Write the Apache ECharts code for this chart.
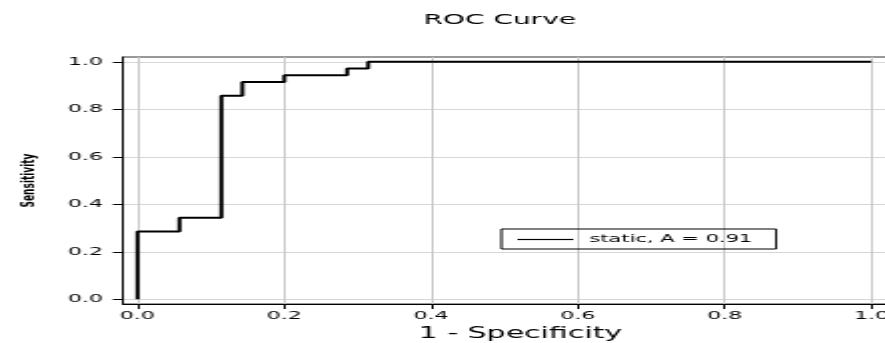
<!DOCTYPE html>
<html>
<head>
<meta charset="utf-8">
<title>ROC Curve</title>
<script src="https://cdn.jsdelivr.net/npm/echarts@6/dist/echarts.min.js"></script>
<style>
  html, body { margin: 0; padding: 0; background: #fff; overflow: hidden; }
  /* drawn at half width and stretched, like the original picture */
  #chart { width: 443px; height: 343px; transform: scaleX(1.9977); transform-origin: 0 0; }
</style>
</head>
<body>
<div id="chart"></div>
<script>
// ROC points (1 - specificity, sensitivity)
const fpr = [0, 0, 0.0571, 0.1143, 0.1429, 0.2, 0.2857, 0.3143, 1]
const tpr = [0, 0.2857, 0.3429, 0.8571, 0.9143, 0.9429, 0.9714, 1, 1]
const seriesName = 'static, A = 0.91'
const xTicks = [0, 0.2, 0.4, 0.6, 0.8, 1.0]
const yTicks = [0, 0.2, 0.4, 0.6, 0.8, 1.0]

const points = fpr.map((x, i) => [x, tpr[i]])
const font = 'DejaVu Sans'

const chart = echarts.init(document.getElementById('chart'))
chart.setOption({
  animation: false,
  title: {
    text: 'ROC Curve',
    left: 207,
    top: 8,
    textStyle: { fontFamily: font, fontSize: 14, fontWeight: 'normal', color: '#000' }
  },
  grid: {
    left: 61.5,
    top: 57,
    width: 382,
    height: 247,
    outerBoundsMode: 'none',
    containLabel: false,
    show: true,
    borderColor: '#333',
    borderWidth: 1
  },
  legend: {
    data: [seriesName],
    left: 251,
    top: 229,
    icon: 'rect',
    itemWidth: 28,
    itemHeight: 1.2,
    itemStyle: { color: '#000' },
    borderColor: '#000',
    borderWidth: 1,
    padding: [5, 12, 4, 8],
    textStyle: { fontFamily: font, fontSize: 10.5, color: '#000', padding: [0, 0, 0, 3] }
  },
  xAxis: {
    type: 'value',
    min: -0.02,
    max: 1.02,
    name: '1 - Specificity',
    nameLocation: 'middle',
    nameGap: 22,
    nameTextStyle: { fontFamily: font, fontSize: 15, color: '#000', padding: [0, 0, 0, 16] },
    axisLine: { show: true, onZero: false, lineStyle: { color: '#000', width: 1 } },
    axisTick: { show: true, length: 5, customValues: xTicks, lineStyle: { color: '#000' } },
    axisLabel: {
      customValues: xTicks,
      formatter: v => v.toFixed(1),
      fontFamily: font,
      fontSize: 11,
      color: '#000',
      margin: 7
    },
    splitLine: { show: true, lineStyle: { color: '#c8c8c8', width: 1 } }
  },
  yAxis: {
    type: 'value',
    min: -0.02,
    max: 1.02,
    name: 'Sensitivity',
    nameLocation: 'middle',
    nameGap: 42,
    nameTextStyle: { fontFamily: font, fontSize: 9, fontWeight: 'bold', color: '#000' },
    axisLine: { show: true, onZero: false, lineStyle: { color: '#000', width: 1 } },
    axisTick: { show: true, length: 5, customValues: yTicks, lineStyle: { color: '#000' } },
    axisLabel: {
      customValues: yTicks,
      formatter: v => v.toFixed(1),
      fontFamily: font,
      fontSize: 11,
      color: '#000',
      margin: 10
    },
    splitLine: { show: true, lineStyle: { color: '#d6d6d6', width: 1 } }
  },
  series: [
    {
      name: seriesName,
      type: 'line',
      step: 'end',
      symbol: 'none',
      data: points,
      lineStyle: { color: '#000', width: 2 },
      itemStyle: { color: '#000' }
    }
  ]
})
</script>
</body>
</html>
